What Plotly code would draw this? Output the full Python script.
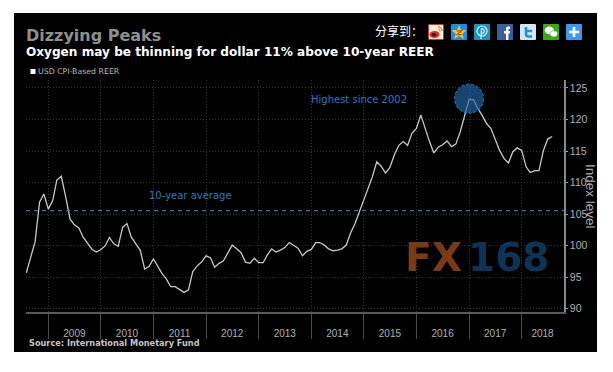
import base64
import plotly.graph_objects as go

START_YEAR = 2008
START_MONTH = 8
reer = [
 95.7, 98.0, 100.6, 106.9, 108.2, 105.8, 107.2, 110.4, 111.0, 107.8, 104.2,
 103.3, 102.8, 101.3, 100.4, 99.4, 99.0, 99.4, 100.0, 101.3, 100.3, 99.9, 102.9,
 103.5, 101.3, 100.3, 99.3, 96.3, 96.7, 97.9, 96.7, 95.6, 94.7, 93.5, 93.5,
 93.1, 92.6, 93.0, 95.9, 96.8, 97.4, 98.4, 98.1, 96.6, 97.2, 97.6, 98.8,
 100.1, 99.5, 98.9, 97.4, 97.2, 98.0, 97.3, 97.3, 98.5, 99.5, 99.0, 99.3,
 99.7, 100.5, 100.1, 99.6, 98.4, 99.1, 99.4, 100.5, 100.5, 100.1, 99.5, 99.2,
 99.3, 99.5, 100.1, 102.0, 103.5, 105.4, 107.2, 109.4, 110.9, 113.3, 112.6, 111.5,
 112.4, 114.4, 115.9, 116.5, 115.9, 117.8, 118.6, 120.7, 118.6, 116.5, 114.7, 115.6,
 116.0, 116.6, 115.7, 116.1, 118.1, 120.7, 123.2, 123.1, 121.8, 120.7, 119.4, 118.6,
 116.8, 115.1, 113.8, 113.1, 114.9, 115.5, 115.1, 112.5, 111.6, 111.9, 111.9, 115.1,
 116.9, 117.3,
]
dates = []
for i in range(len(reer)):
    m = START_MONTH - 1 + i
    dates.append(f"{START_YEAR + m // 12}-{m % 12 + 1:02d}-01")

average_value = 105.55
peak_date = "2017-01-01"
peak_value = 123.3
years = ["2009", "2010", "2011", "2012", "2013", "2014", "2015", "2016", "2017", "2018"]
year_label_dates = [f"{y}-07-01" for y in years[:-1]] + ["2018-05-26"]
year_bounds = [f"{y}-01-01" for y in years]
y_ticks = [90, 95, 100, 105, 110, 115, 120, 125]

W, H = 613, 372
L, R, T, B = 26, 564, 80, 312
def px(x): return (x - L) / (R - L)
def py(y): return (B - y) / (B - T)

GRID = "#333333"
BLUE = "#2a78c0"

def note(x, y, text, size, color, family="DejaVu Sans", bold=False, xanchor="left", angle=0):
    return dict(x=px(x), y=py(y), xref="paper", yref="paper", text=f"<b>{text}</b>" if bold else text,
                showarrow=False, xanchor=xanchor, yanchor="middle", textangle=angle,
                font=dict(size=size, color=color, family=family), borderpad=0, borderwidth=0)

def svg(body):
    s = f'<svg xmlns="http://www.w3.org/2000/svg" viewBox="0 0 16 16" width="48" height="48">{body}</svg>'
    return "data:image/svg+xml;base64," + base64.b64encode(s.encode()).decode()

icons = [
 '<rect x=".5" y=".5" width="15" height="15" rx="1" fill="#f6efe6" stroke="#d8321e"/><ellipse cx="6.5" cy="10.5" rx="5" ry="3.6" fill="#d8321e"/><ellipse cx="6" cy="10.8" rx="2.3" ry="1.7" fill="#222"/><path d="M10 3 A4 4 0 0 1 14 7" stroke="#e8901c" stroke-width="1.5" fill="none"/><path d="M10 5.5 A2 2 0 0 1 12 7.5" stroke="#e8901c" stroke-width="1.2" fill="none"/>',
 '<rect width="16" height="16" rx="1" fill="#1c8fe0"/><path d="M8 1 L10 6 L15.5 6.3 L11.3 9.7 L12.8 15 L8 12 L3.2 15 L4.7 9.7 L.5 6.3 L6 6 Z" fill="#f7c62c"/><path d="M5.5 6.8 H10.5 L6 10.6 H10.8" stroke="#c6482a" stroke-width="1.2" fill="none"/>',
 '<rect width="16" height="16" rx="1" fill="#2094b8"/><circle cx="8" cy="7" r="5" fill="none" stroke="#d9f1f8" stroke-width="1.2"/><path d="M7 15 L7.5 4.5 A2.5 2.5 0 1 1 8 9.5" fill="none" stroke="#d9f1f8" stroke-width="1.2"/>',
 '<rect width="16" height="16" rx="1" fill="#3b5f9e"/><path d="M9 16 V9.5 H7 V7 H9 V5 Q9 2.6 11.6 2.6 H13 V5 H12 Q11.4 5 11.4 5.8 V7 H13 L12.7 9.5 H11.4 V16 Z" fill="#fff"/>',
 '<rect width="16" height="16" rx="1" fill="#cfe8f6"/><path d="M6 3 V10 Q6 12.5 8.5 12.5 H12 M6 7 H12" stroke="#2a8fd2" stroke-width="2.6" fill="none"/>',
 '<rect width="16" height="16" rx="1" fill="#3fa51c"/><ellipse cx="6.3" cy="6.4" rx="4.6" ry="3.8" fill="#fff"/><ellipse cx="10.8" cy="9.8" rx="3.9" ry="3.1" fill="#fff" stroke="#3fa51c" stroke-width=".6"/>',
 '<rect width="16" height="16" rx="1" fill="#3f97ec"/><path d="M8 3 V13 M3 8 H13" stroke="#fff" stroke-width="2.6"/>',
]
icon_x = [428, 451, 474, 497, 520, 543, 566]

fig = go.Figure()
fig.add_trace(go.Scatter(x=dates, y=reer, mode="lines", line=dict(color="#c8c8c8", width=1.3), hoverinfo="skip", showlegend=False))

shapes = [
    dict(type="rect", xref="paper", yref="paper", x0=px(14), x1=px(597), y0=py(352), y1=py(13),
         fillcolor="#000", line_width=0, layer="below"),
    dict(type="line", xref="paper", yref="y", x0=0, x1=1, y0=average_value, y1=average_value,
         line=dict(color=BLUE, width=1.3, dash="4px,4px"), layer="above"),
    dict(type="circle", xref="x", yref="y", xsizemode="pixel", ysizemode="pixel", xanchor=peak_date, yanchor=peak_value,
         x0=-14.5, x1=14.5, y0=-14.5, y1=14.5, fillcolor="rgba(38,100,165,0.68)",
         line=dict(color=BLUE, width=1, dash="3px,2px"), layer="above"),
    dict(type="rect", xref="paper", yref="paper", x0=px(30.5), x1=px(35.5), y0=py(74), y1=py(69),
         fillcolor="#fff", line_width=0),
]

annotations = [
    note(26, 35, "Dizzying Peaks", 16, "#8f8f8f", bold=True),
    note(26, 52, "Oxygen may be thinning for dollar 11% above 10-year REER", 12.1, "#fff", bold=True),
    note(37.5, 71.5, "USD CPI-Based REER", 7.8, "#b8b8b8"),
    note(29, 343, "Source: International Monetary Fund", 8.2, "#c4c4c4", bold=True),
    note(375, 30, "分享到：", 12, "#fff", family="Noto Sans CJK SC"),
    note(311, 100, "Highest since 2002", 10, BLUE),
    note(149, 195, "10-year average", 10, BLUE),
    note(591, 196, "Index level", 13.5, "#b0b0b0", family="Liberation Sans", xanchor="center", angle=90),
    note(405, 257, "FX", 39, "#7a3a17", bold=True),
    note(468, 257, "168", 39, "#0e3355", bold=True),
]

fig.update_layout(
    width=W, height=H, margin=dict(l=L, r=W - R, t=T, b=H - B), paper_bgcolor="#fff", plot_bgcolor="rgba(0,0,0,0)",
    showlegend=False, shapes=shapes, annotations=annotations,
    images=[dict(source=svg(b), xref="paper", yref="paper", x=px(x), y=py(24), sizex=16 / (R - L), sizey=16 / (B - T),
                 xanchor="left", yanchor="top", layer="above", sizing="stretch") for x, b in zip(icon_x, icons)],
    xaxis=dict(type="date", range=["2008-07-30", "2018-10-22"], tickmode="array", tickvals=year_label_dates, ticktext=years,
               ticks="", ticklen=0, ticklabelstandoff=11, showgrid=False, zeroline=False, showline=True, linecolor="#5a5a5a", linewidth=2,
               tickfont=dict(size=10, color="#b0b0b0", family="Liberation Sans"),
               minor=dict(tickmode="array", tickvals=year_bounds, ticks="outside", ticklen=25, tickcolor="#4a4a4a", tickwidth=1,
                          showgrid=True, gridcolor=GRID, griddash="1px,2px", gridwidth=1)),
    yaxis=dict(side="right", range=[89.49, 126.26], tickmode="array", tickvals=y_ticks, ticks="outside", ticklen=2, tickcolor="#999",
               showline=True, linecolor="#8a8a8a", linewidth=1.5, showgrid=True, gridcolor=GRID, griddash="1px,2px", gridwidth=1, zeroline=False,
               tickfont=dict(size=10.5, color="#b0b0b0", family="Liberation Sans")),
)
fig.write_html("out.html", config=dict(displayModeBar=False), post_script="document.body.style.margin='0';document.documentElement.style.overflow='hidden';")
